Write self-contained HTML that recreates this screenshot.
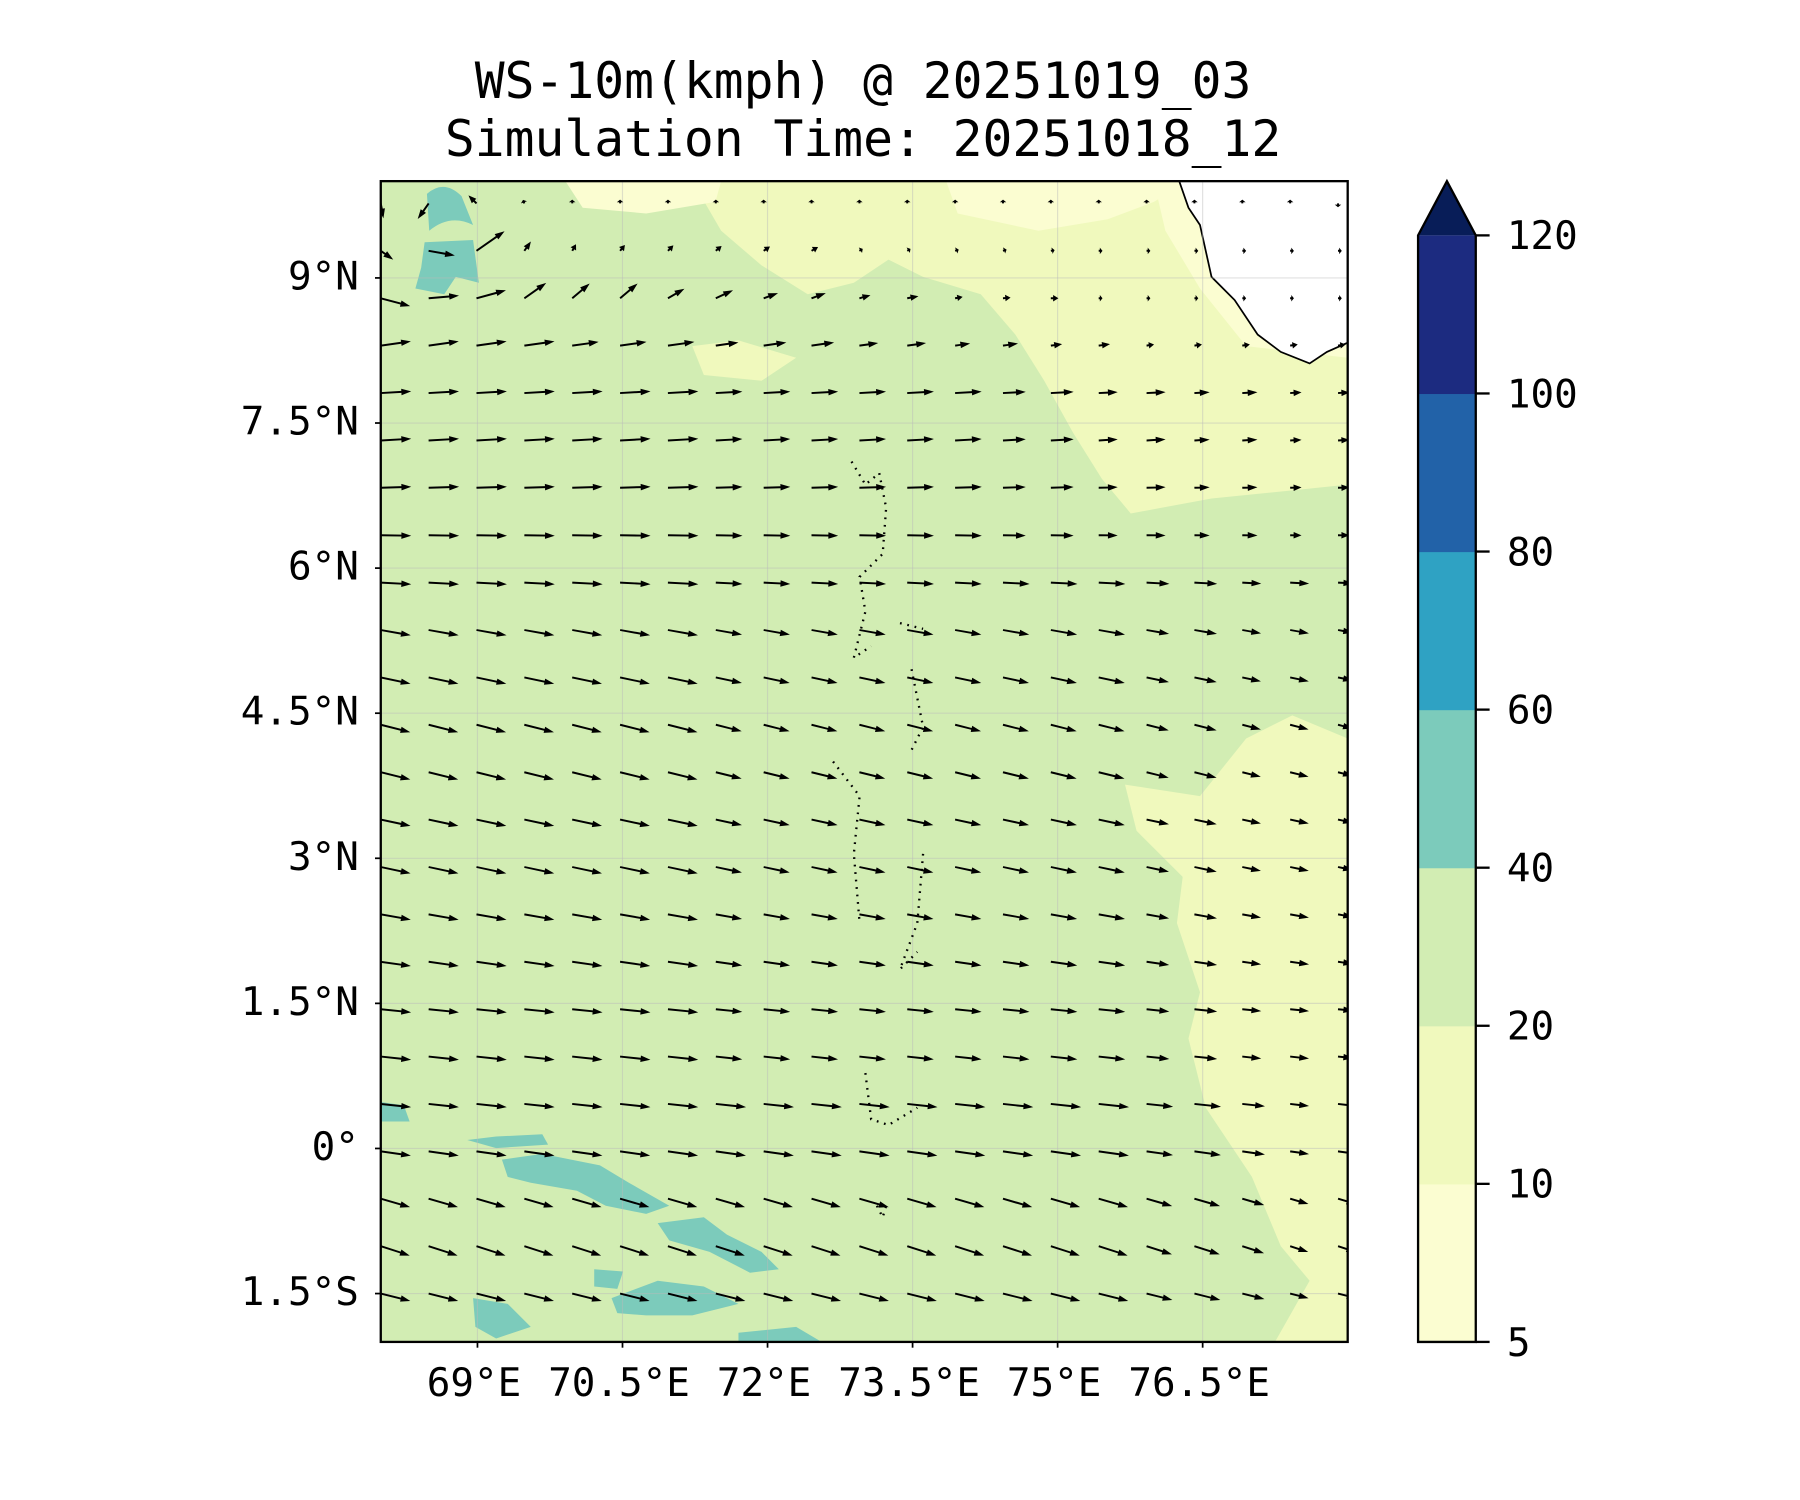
<!DOCTYPE html>
<html><head><meta charset="utf-8"><style>
html,body{margin:0;padding:0;background:#fff;}
svg{display:block;}
text{font-family:"DejaVu Sans Mono","Liberation Mono",monospace;fill:#000;}
</style></head><body>
<svg id="fig" width="1800" height="1500" viewBox="0 0 1560 1300" xmlns="http://www.w3.org/2000/svg">
<text x="748" y="85" font-size="43" text-anchor="middle">WS-10m(kmph) @ 20251019_03</text>
<text x="748" y="135" font-size="43" text-anchor="middle">Simulation Time: 20251018_12</text>
<defs><clipPath id="pc"><rect x="330" y="157" width="838" height="1006"/></clipPath></defs>
<g clip-path="url(#pc)">
<rect x="330" y="157" width="838" height="1006" fill="#d2edb3"/>
<path fill="#f0f9bd" d="M600,157 L625,200 L660,230 L700,255 L740,245 L770,225 L800,240 L850,255 L880,290 L905,330 L930,375 L955,415 L980,445 L1050,432 L1120,425 L1168,420 L1168,157 Z"/>
<path fill="#f0f9bd" d="M1168,640 L1120,620 L1080,640 L1040,690 L975,680 L985,720 L1025,760 L1020,800 L1040,860 L1030,900 L1045,960 L1085,1020 L1110,1080 L1135,1110 L1105,1163 L1168,1163 Z"/>
<path fill="#f0f9bd" d="M600,300 L640,295 L690,310 L660,330 L610,325 Z"/>
<path fill="#fbfdd1" d="M490,157 L505,180 L560,185 L620,175 L625,157 Z M820,157 L830,185 L900,200 L960,190 L1000,175 L1030,157 Z"/>
<path fill="#fbfdd1" d="M1000,157 L1010,200 L1040,250 L1080,300 L1168,310 L1168,157 Z"/>
<path fill="#ffffff" d="M1022,157 L1030,180 L1040,195 L1050,240 L1070,260 L1090,290 L1110,305 L1135,315 L1150,305 L1168,297 L1168,157 Z"/>
<path fill="none" stroke="#000" stroke-width="1.5" d="M1022,157 L1030,180 L1040,195 L1050,240 L1070,260 L1090,290 L1110,305 L1135,315 L1150,305 L1168,297"/>
<g fill="#7ccbbb">
<path d="M370,168 Q385,155 400,170 L410,195 Q390,185 372,200 Z"/>
<path d="M368,210 L410,208 L415,245 L395,240 L385,255 L360,250 L365,232 Z"/>
<path d="M330,955 L350,958 L355,972 L330,972 Z"/>
<path d="M405,988 L430,985 L470,983 L475,992 L430,995 Z"/>
<path d="M435,1005 L470,1000 L520,1010 L545,1025 L580,1045 L560,1052 L525,1045 L500,1032 L460,1025 L440,1020 Z"/>
<path d="M570,1060 L610,1055 L630,1070 L660,1085 L675,1100 L650,1103 L615,1085 L580,1075 Z"/>
<path d="M410,1125 L440,1130 L460,1150 L430,1160 L412,1150 Z"/>
<path d="M515,1100 L540,1102 L535,1117 L515,1115 Z"/>
<path d="M530,1125 L570,1110 L610,1115 L640,1130 L600,1140 L560,1140 L535,1138 Z"/>
<path d="M640,1155 L690,1150 L712,1163 L640,1163 Z"/>
</g>
<g id="grid" stroke="#bbb" stroke-opacity="0.45" stroke-width="1"></g>
<path fill="none" stroke="#000" stroke-width="2" stroke-dasharray="1.5 5" d="M738,400 L750,420 L762,410 L768,440 L765,480 L745,500 L750,530 L740,570 L755,560 M780,540 L800,545 M790,580 L800,630 L790,650 M722,660 L745,690 L740,740 L745,800 M800,740 L795,800 L780,840 L795,825 M750,930 L755,970 L770,975 L795,960 M760,1045 L765,1055 L768,1045"/>
<g id="quiver"></g>
</g>
<rect x="330" y="157" width="838" height="1006" fill="none" stroke="#000" stroke-width="2"/>
<g id="axes"></g>
<g id="cbar"></g>
</svg>
<script>
const lonTicks=[69,70.5,72,73.5,75,76.5];
const lonLabels=["69°E","70.5°E","72°E","73.5°E","75°E","76.5°E"];
const latTicks=[9,7.5,6,4.5,3,1.5,0,-1.5];
const latLabels=["9°N","7.5°N","6°N","4.5°N","3°N","1.5°N","0°","1.5°S"];
const cbLevels=[5,10,20,40,60,80,100,120];
const cbColors=["#fbfdd1","#f0f9bd","#d2edb3","#7ccbbb","#2fa2c3","#2262a8","#1c2b80"];
const cbExtendColor="#081d58";
// wind speed digits per row (top row first), 21 columns
const speedRows=[
"453111111111111111111",
"479322222211111111111",
"888766554433222111111",
"888877766655443322222",
"888888877777766554433",
"888888877777766554433",
"888888877777766554433",
"888888877777766554433",
"888888877777777766554",
"888888877777777766554",
"888888877777777766554",
"888888877777777766554",
"888888877777777766554",
"888888877777777766554",
"888888877777777766554",
"888888877777777766554",
"888888877777777766554",
"888888877777777766554",
"888888877777777766554",
"888888888888888877655",
"888888888888888877655",
"888888888888888877655",
"888888888888888877655",
"888888888888888877655"];
// wind direction (deg, up positive) per row (top row first)
const rowAngles=[null,null,null,8,3,3,2,-1,-3,-10,-12,-14,-14,-12,-12,-10,-8,-6,-6,-6,-8,-16,-18,-14];
const topRowAngles=[
[-80,-125,135,110,90,90,90,90,90,90,90,90,90,90,90,90,90,90,90,90,-90],
[-35,-10,35,55,60,50,45,40,35,30,30,30,20,20,10,0,0,0,0,0,0],
[-15,5,15,35,40,40,30,25,20,20,15,10,10,5,0,0,0,0,0,0,0]];
const gridLon0=68.0,gridDLon=0.495,gridLatTop=9.77,gridDLat=0.49;

const NS="http://www.w3.org/2000/svg";
const X=lon=>330+(lon-68)*83.8;
const Y=lat=>1163-(lat+2)*83.83;
function mk(t,a,p){const e=document.createElementNS(NS,t);for(const k in a)e.setAttribute(k,a[k]);p.appendChild(e);return e;}
const grid=document.getElementById('grid');
lonTicks.forEach(v=>{const l=mk('line',{x1:X(v),x2:X(v),y1:157,y2:1163},grid);});
latTicks.forEach(v=>{const l=mk('line',{x1:330,x2:1168,y1:Y(v),y2:Y(v)},grid);});
const axes=document.getElementById('axes');
lonTicks.forEach((v,i)=>{
 const t=mk('line',{x1:X(v),x2:X(v),y1:1163,y2:1168,stroke:'#000','stroke-width':1.5},axes);
 
 const s=mk('text',{x:X(v)-3,y:1210,'font-size':34,'text-anchor':'middle'},axes);s.textContent=lonLabels[i];
 
});
latTicks.forEach((v,i)=>{
 const t=mk('line',{x1:325,x2:330,y1:Y(v),y2:Y(v),stroke:'#000','stroke-width':1.5},axes);
 
 const s=mk('text',{x:311,y:Y(v)+10,'font-size':34,'text-anchor':'end'},axes);s.textContent=latLabels[i];
 
});
// quiver
const q=document.getElementById('quiver');
speedRows.forEach((row,r)=>{
 const lat=gridLatTop-r*gridDLat;
 for(let c=0;c<row.length;c++){
  const lon=gridLon0+c*gridDLon;
  const L=parseInt(row[c])*3.3;
  const ang=(r<3?topRowAngles[r][c]:rowAngles[r])*Math.PI/180;
  const x0=X(lon),y0=Y(lat);
  const dx=Math.cos(ang),dy=-Math.sin(ang);
  const hl=Math.min(8.5,L*0.7),hw=2.8,sw=0.85;
  const px=-dy,py=dx;
  const bx=x0+dx*(L-hl),by=y0+dy*(L-hl),tx=x0+dx*L,ty=y0+dy*L;
  const pts=[[x0+px*sw,y0+py*sw],[bx+px*sw,by+py*sw],[bx+px*hw,by+py*hw],[tx,ty],[bx-px*hw,by-py*hw],[bx-px*sw,by-py*sw],[x0-px*sw,y0-py*sw]];
  const a=mk('polygon',{points:pts.map(p=>p[0].toFixed(1)+','+p[1].toFixed(1)).join(' '),fill:'#000'},q);
  
  
 }
});
// colorbar
const cb=document.getElementById('cbar');
const cx0=1229,cx1=1279,ctop=204,cbot=1163,seg=(cbot-ctop)/(cbLevels.length-1);
const CY=i=>cbot-i*seg;
cbColors.forEach((col,i)=>{
 const r=mk('rect',{x:cx0,y:CY(i+1),width:cx1-cx0,height:seg+0.5,fill:col},cb);
 
});
const tri=mk('polygon',{points:`${cx0},${ctop} ${(cx0+cx1)/2},157 ${cx1},${ctop}`,fill:cbExtendColor},cb);

const fr=mk('path',{d:`M${cx0},${cbot} L${cx0},${ctop} L${(cx0+cx1)/2},157 L${cx1},${ctop} L${cx1},${cbot} Z`,fill:'none',stroke:'#000','stroke-width':2},cb);

cbLevels.forEach((v,i)=>{
 const t=mk('line',{x1:cx1,x2:cx1+12,y1:CY(i),y2:CY(i),stroke:'#000','stroke-width':2},cb);
 
 const s=mk('text',{x:1306,y:CY(i)+12,'font-size':34},cb);s.textContent=String(v);
 
});
</script>
</body></html>
